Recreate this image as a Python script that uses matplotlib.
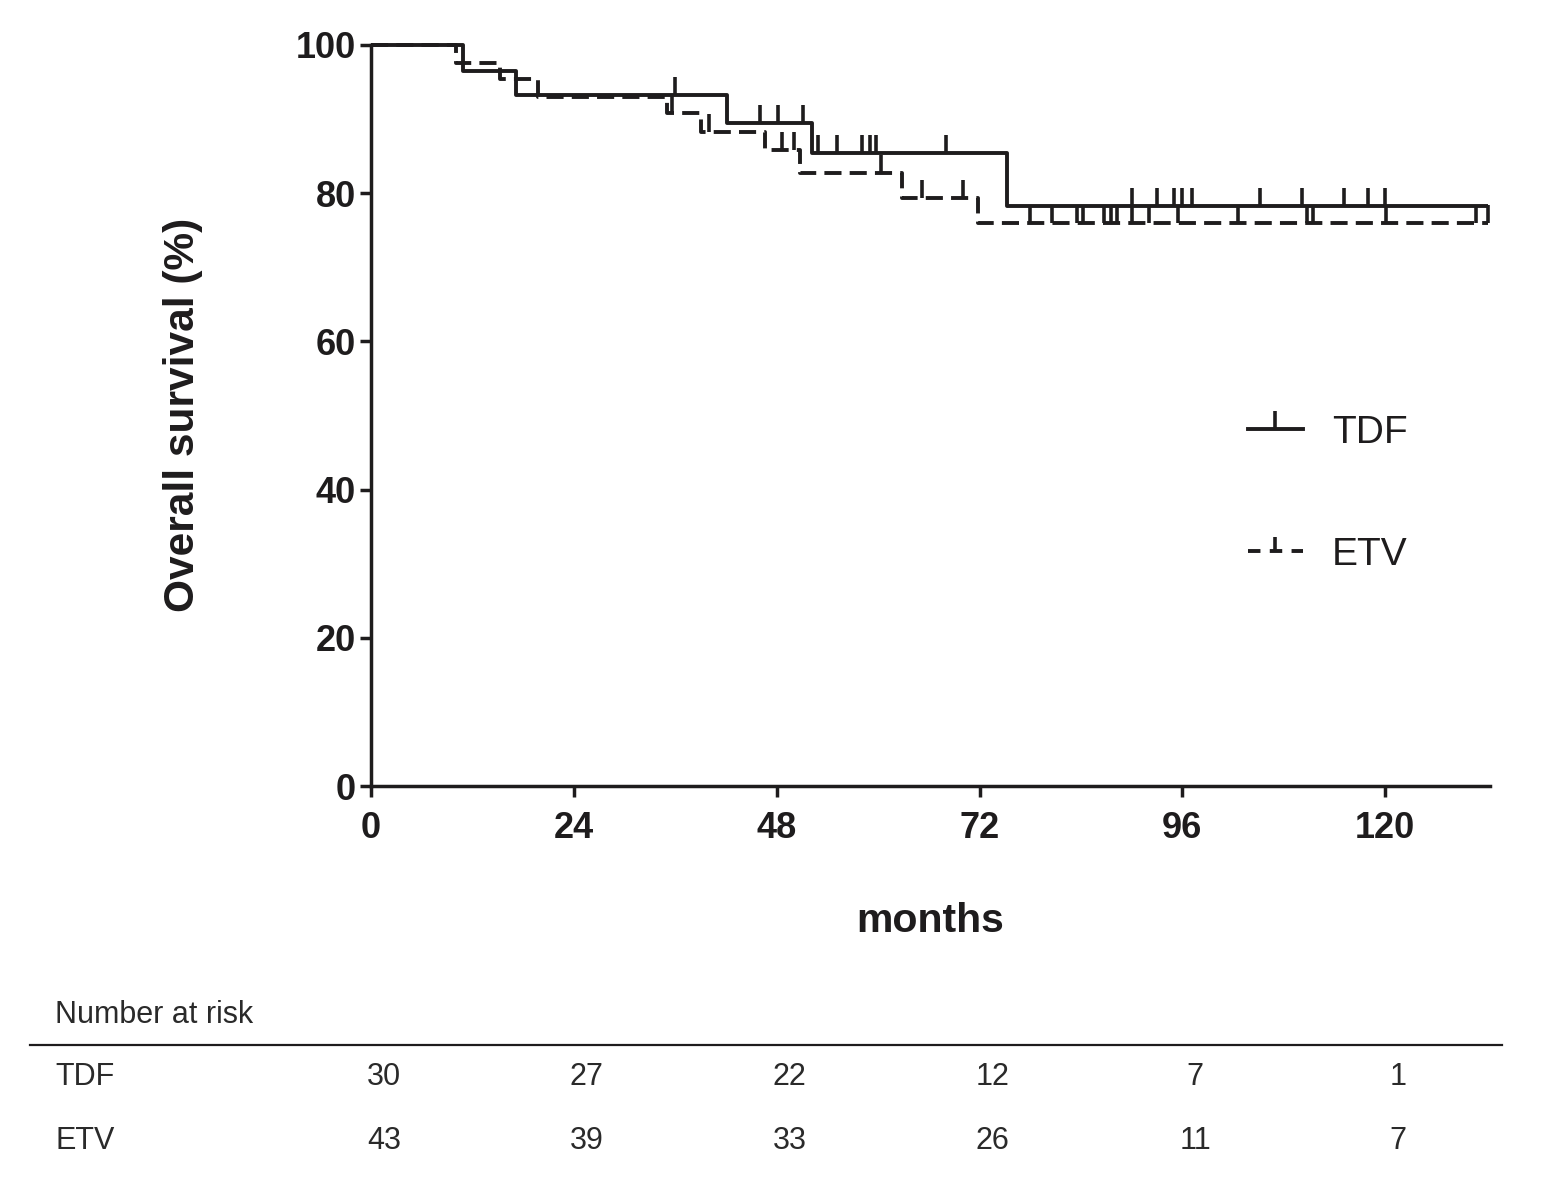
import numpy as np
import matplotlib
matplotlib.use("Agg")
import matplotlib.pyplot as plt
from matplotlib.lines import Line2D
from matplotlib import transforms

plt.rcParams['font.family'] = ['Liberation Sans', 'DejaVu Sans']

# ---- data ----
x_ticks = [0, 24, 48, 72, 96, 120]
y_ticks = [0, 20, 40, 60, 80, 100]

tdf_step_t = [0, 10.9, 17.2, 42.1, 52.2, 75.2]
tdf_step_s = [100, 96.5, 93.3, 89.5, 85.4, 78.3]
tdf_end = 132.2
tdf_cens = [36.0, 46.0, 48.1, 51.1, 52.9, 55.1, 58.1, 59.0, 59.8, 68.0,
            90.0, 93.0, 95.0, 95.9, 97.1, 105.2, 110.1, 115.1, 118.0, 120.0]

etv_step_t = [0, 10.1, 15.3, 19.8, 35.0, 39.1, 46.6, 50.8, 62.8, 71.8]
etv_step_s = [100, 97.6, 95.4, 93.0, 90.8, 88.3, 85.8, 82.7, 79.4, 76.0]
etv_end = 132.2
etv_cens = [35.6, 40.0, 48.6, 50.0, 60.3, 65.2, 70.1, 78.0, 80.6, 83.5, 84.3,
            86.7, 87.5, 88.3, 90.0, 92.0, 95.5, 102.6, 110.8, 111.5, 120.1,
            130.8, 132.2]

risk_groups = ['TDF', 'ETV']
tdf_risk = [30, 27, 22, 12, 7, 1]
etv_risk = [43, 39, 33, 26, 11, 7]

# ---- figure ----
W, H = 1542, 1194
fig = plt.figure(figsize=(W / 100, H / 100), dpi=100)
ax = fig.add_axes([371 / W, 1 - 786 / H, (1490 - 371) / W, (786 - 45) / H])

ink = '#1e1c1d'
lw = 2.8
mew = 2.6


def surv_at(times, steps, t):
    idx = np.searchsorted(times, t, side='right') - 1
    return np.asarray(steps)[idx]


# TDF (solid)
ax.step(tdf_step_t + [tdf_end], tdf_step_s + [tdf_step_s[-1]], where='post',
        color=ink, lw=lw, clip_on=False, solid_capstyle='butt')
ax.plot(tdf_cens, surv_at(tdf_step_t, tdf_step_s, tdf_cens), linestyle='none',
        marker=2, markersize=13, markeredgewidth=mew, color=ink, clip_on=False)

# ETV (dashed)
ax.step(etv_step_t + [etv_end], etv_step_s + [etv_step_s[-1]], where='post',
        color=ink, lw=lw, clip_on=False, linestyle=(0, (4.4, 2.1)))
ax.plot(etv_cens, surv_at(etv_step_t, etv_step_s, etv_cens), linestyle='none',
        marker=2, markersize=13, markeredgewidth=mew, color=ink, clip_on=False)

ax.set_xlim(0, 132.4)
ax.set_ylim(0, 100)
ax.set_xticks(x_ticks)
ax.set_yticks(y_ticks)
for sp in ['top', 'right']:
    ax.spines[sp].set_visible(False)
for sp in ['left', 'bottom']:
    ax.spines[sp].set_linewidth(2.5)
    ax.spines[sp].set_color(ink)
ax.tick_params(axis='both', direction='out', length=8, width=2.5, color=ink,
               labelsize=26, labelcolor=ink)
ax.tick_params(axis='y', pad=3)
ax.tick_params(axis='x', pad=10)
for lab in ax.get_xticklabels() + ax.get_yticklabels():
    lab.set_fontweight('bold')

fig.text(183 / W, 1 - 415 / H, 'Overall survival (%)', rotation=90, ha='center',
         va='center', fontsize=30.5, fontweight='bold', color=ink)
fig.text(930 / W, 1 - 921 / H, 'months', ha='center', va='center', fontsize=29.5,
         fontweight='bold', color=ink)

# legend
h_tdf = Line2D([], [], color=ink, lw=lw, marker=2, markersize=13, markeredgewidth=mew)
h_etv = Line2D([], [], color=ink, lw=lw, linestyle=(0, (3.2, 2.4)), marker=2,
               markersize=10, markeredgewidth=mew)
ax.legend([h_tdf, h_etv], risk_groups, loc='upper left',
          bbox_to_anchor=(1248 / W, 1 - 415 / H), bbox_transform=fig.transFigure,
          frameon=False, fontsize=28, handlelength=1.41, handletextpad=0.75,
          labelspacing=2.2, borderpad=0, borderaxespad=0, numpoints=1,
          labelcolor=ink)

# number at risk table
tcol = '#2a2a2a'
fig.text(55 / W, 1 - 1015 / H, 'Number at risk', ha='left', va='center',
         fontsize=22, color=tcol)
fig.add_artist(Line2D([30 / W, 1502 / W], [1 - 1045 / H, 1 - 1045 / H],
                      color=ink, lw=1.6))
offset = transforms.ScaledTranslation(13 / 100, 0, fig.dpi_scale_trans)
trans = transforms.blended_transform_factory(ax.transData, fig.transFigure) + offset
for row_y, name, vals in [(1077, risk_groups[0], tdf_risk), (1141, risk_groups[1], etv_risk)]:
    fig.text(55 / W, 1 - row_y / H, name, ha='left', va='center', fontsize=22, color=tcol)
    for m, v in zip(x_ticks, vals):
        fig.text(m, 1 - row_y / H, str(v), ha='center', va='center', fontsize=22,
                 color=tcol, transform=trans)

fig.savefig('out.png', dpi=100)
